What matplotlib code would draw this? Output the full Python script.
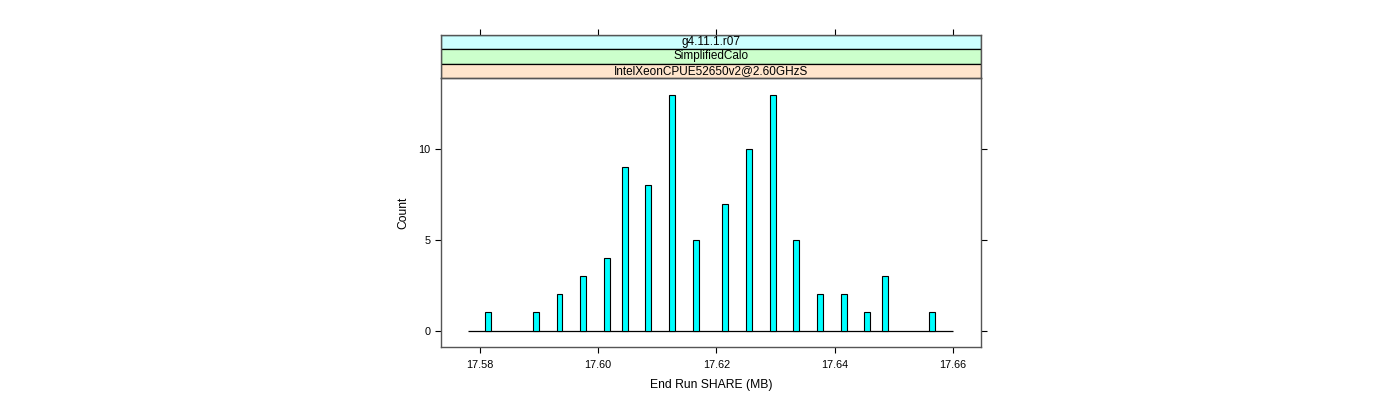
import matplotlib
matplotlib.use("Agg")
import matplotlib.pyplot as plt
from matplotlib.patches import Rectangle

plt.rcParams['font.family'] = ['Liberation Sans', 'DejaVu Sans']

# histogram bins (centres, MB) with non-zero counts, bin width 0.001 MB
bin_centers = [17.5815, 17.5895, 17.5935, 17.5975, 17.6015, 17.6045, 17.6085,
               17.6125, 17.6165, 17.6215, 17.6255, 17.6295, 17.6335, 17.6375,
               17.6415, 17.6455, 17.6485, 17.6565]
counts = [1, 1, 2, 3, 4, 9, 8, 13, 5, 7, 10, 13, 5, 2, 2, 1, 3, 1]
bin_width = 0.001
hist_range = [17.578, 17.66]

x_ticks = [17.58, 17.60, 17.62, 17.64, 17.66]
x_ticklabels = ['17.58', '17.60', '17.62', '17.64', '17.66']
y_ticks = [0, 5, 10]

strip_labels = ['g4.11.1.r07', 'SimplifiedCalo', 'IntelXeonCPUE52650v2@2.60GHzS']
strip_colors = ['#CCFFFF', '#CCFFCC', '#FFE5CC']

W, H = 1400, 400
fig = plt.figure(figsize=(W / 100, H / 100), dpi=100)

# panel geometry in pixels
px_left, px_right = 440.5, 981
px_top, px_bottom = 78.3, 347
strip_top = 34.7

xlim = (17.5734, 17.6647)
ylim = (-0.91, 13.91)

ax = fig.add_axes([px_left / W, 1 - px_bottom / H,
                   (px_right - px_left) / W, (px_bottom - px_top) / H])
ax.bar(bin_centers, counts, width=bin_width, color='#00FFFF',
       edgecolor='black', linewidth=0.8, zorder=3)
ax.hlines(0, hist_range[0], hist_range[1], color='black', linewidth=0.9, zorder=2)
ax.set_xlim(*xlim)
ax.set_ylim(*ylim)
ax.set_xticks(x_ticks)
ax.set_xticklabels(x_ticklabels)
ax.set_yticks(y_ticks)
ax.tick_params(axis='both', direction='out', length=4, width=0.8, labelsize=7.8,
               color='black', pad=3)
ax.tick_params(axis='x', pad=5)
ax.tick_params(axis='y', right=True, labelright=False)
for s in ax.spines.values():
    s.set_color('#555555')
    s.set_linewidth(1.0)
ax.set_xlabel('End Run SHARE (MB)', fontsize=8.7, labelpad=7)
ax.set_ylabel('Count', fontsize=8.7, labelpad=7)

# strips
sax = fig.add_axes([px_left / W, 1 - px_top / H,
                    (px_right - px_left) / W, (px_top - strip_top) / H])
sax.set_xlim(*xlim)
sax.set_ylim(0, 3)
n = len(strip_labels)
for i, (lab, col) in enumerate(zip(strip_labels, strip_colors)):
    y0 = n - 1 - i
    sax.add_patch(Rectangle((xlim[0], y0), xlim[1] - xlim[0], 1,
                            facecolor=col, edgecolor='black', linewidth=0.9))
    sax.text(sum(xlim) / 2, y0 + 0.5, lab, ha='center', va='center', fontsize=8.5)
sax.set_xticks(x_ticks)
sax.set_yticks([])
sax.tick_params(axis='x', bottom=False, labelbottom=False, top=True, labeltop=False,
                direction='out', length=4, width=0.8)
for s in sax.spines.values():
    s.set_color('#555555')
    s.set_linewidth(1.0)

fig.savefig('out.png', dpi=100)
